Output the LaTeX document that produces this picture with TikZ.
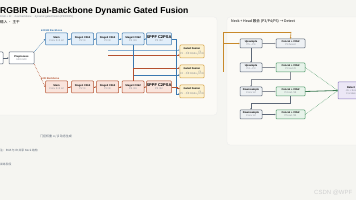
\documentclass[tikz,border=0pt]{standalone}
\usepackage{fontspec}
\setmainfont{Liberation Sans}
\newfontfamily\cjk{Noto Sans CJK SC}
\usetikzlibrary{arrows.meta}
\definecolor{bgc}{HTML}{F5F5F1}
\definecolor{panel}{HTML}{FBFAF6}
\definecolor{rgbb}{HTML}{3A78B0}
\definecolor{rgbf}{HTML}{E2EEF9}
\definecolor{rgbl}{HTML}{86AED2}
\definecolor{irb}{HTML}{B5502F}
\definecolor{irf}{HTML}{F9E4DC}
\definecolor{fub}{HTML}{D4A040}
\definecolor{fuf}{HTML}{FCF1CF}
\definecolor{grb}{HTML}{5D6878}
\definecolor{grf}{HTML}{EEF1F4}
\definecolor{gnb}{HTML}{4E9A6A}
\definecolor{gnf}{HTML}{E7F3EA}
\definecolor{pub}{HTML}{8A78C0}
\definecolor{puf}{HTML}{ECE7F6}
\definecolor{orl}{HTML}{C8892A}
\definecolor{txg}{HTML}{8A8F98}
\tikzset{
  blk/.style={draw, line width=0.5pt, rounded corners=0.8pt, inner sep=0pt, align=center,
    font=\fontsize{2.6}{3.2}\selectfont},
  rgbbox/.style={blk, draw=rgbb, fill=rgbf, minimum width=22pt, minimum height=12pt},
  irbox/.style={blk, draw=irb, fill=irf, minimum width=22pt, minimum height=12pt},
  fubox/.style={blk, draw=fub, fill=fuf, minimum width=24pt, minimum height=13pt},
  grbox/.style={blk, draw=grb, fill=grf, minimum width=22pt, minimum height=9pt},
  gnbox/.style={blk, draw=gnb, fill=gnf, minimum width=29pt, minimum height=9pt},
  ar/.style={-{Stealth[length=1.6pt,width=1.4pt]}, line width=0.5pt},
  lbl/.style={inner sep=0pt, anchor=west},
  pnl/.style={fill=panel, draw=black!7, line width=0.4pt, rounded corners=3pt},
}
\newcommand{\tl}[2]{\textbf{#1}\\[-0.2pt]\textcolor{txg}{#2}}
\begin{document}
\begin{tikzpicture}[x=1pt,y=-1pt]
\useasboundingbox (0,0) rectangle (356,200);
\fill[bgc] (0,0) rectangle (356,200);
% panels
\path[pnl] (-6,17) rectangle (217,115);
\path[pnl] (227,17) rectangle (362,145);
% title
\node[lbl, font=\fontsize{8.6}{9}\selectfont\bfseries] (title) at (0,11.5) {RGBIR Dual-Backbone Dynamic Gated Fusion};
\node[lbl, font=\fontsize{2.6}{3}\selectfont, text=txg] (sub) at (0,16.5) {RGB + IR \quad dual backbone \quad dynamic gated fusion (P3/P4/P5)};
\node[lbl, font=\fontsize{3.6}{4}\selectfont\cjk] (lp) at (0,22.5) {输入 · 主干};
% input + preprocess
\node[blk, draw=grb, fill=white, minimum width=8pt, minimum height=12pt] (in) at (-1,58) {};
\node[blk, draw=grb, fill=white, minimum width=25pt, minimum height=12pt] (pre) at (21.5,58) {\tl{Preprocess}{640×640}};
\draw[ar, grb] (in) -- (pre);
% branch labels
\node[lbl, font=\fontsize{2.6}{3}\selectfont\bfseries, text=rgbb] (lr) at (41,31) {■ RGB Backbone};
\node[lbl, font=\fontsize{2.6}{3}\selectfont\bfseries, text=irb] (li) at (41,79) {■ IR Backbone};
% RGB row
\node[rgbbox] (t1) at (56.5,39) {\tl{Stem}{Conv 3×3 s2}};
\node[rgbbox] (t2) at (82.5,39) {\tl{Stage1 C3k2}{P2 /4}};
\node[rgbbox] (t3) at (107.5,39) {\tl{Stage2 C3k2}{P3 /8}};
\node[rgbbox] (t4) at (133,39) {\tl{Stage3 C3k2}{P4 /16}};
\node[rgbbox] (t5) at (159,39) {{\fontsize{4}{4}\selectfont\textbf{SPPF C2PSA}}\\[-0.2pt]\textcolor{txg}{P5 /32}};
% IR row
\node[irbox] (b1) at (56.5,87) {\tl{Stem}{Conv 3×3 s2}};
\node[irbox] (b2) at (82.5,87) {\tl{Stage1 C3k2}{P2 /4}};
\node[irbox] (b3) at (107.5,87) {\tl{Stage2 C3k2}{P3 /8}};
\node[irbox] (b4) at (133,87) {\tl{Stage3 C3k2}{P4 /16}};
\node[irbox] (b5) at (159,87) {{\fontsize{4}{4}\selectfont\textbf{SPPF C2PSA}}\\[-0.2pt]\textcolor{txg}{P5 /32}};
\foreach \a/\b in {t1/t2,t2/t3,t3/t4,t4/t5}{\draw[ar, rgbb] (\a) -- (\b);}
\foreach \a/\b in {b1/b2,b2/b3,b3/b4,b4/b5}{\draw[ar, irb] (\a) -- (\b);}
\draw[ar, rgbb, densely dotted, line width=0.6pt] (pre.north east) -- (t1.west);
\draw[ar, irb, densely dotted, line width=0.6pt] (pre.south east) -- (b1.west);
% fusion nodes
\node[fubox] (f1) at (192,51.5) {\tl{Gated Fusion}{P3 · $\alpha$RGB+$\beta$IR}};
\node[fubox] (f2) at (192,71.5) {\tl{Gated Fusion}{P4 · $\alpha$RGB+$\beta$IR}};
\node[fubox] (f3) at (192,91.5) {\tl{Gated Fusion}{P5 · $\alpha$RGB+$\beta$IR}};
\coordinate (s1) at (108,50);
\coordinate (s2) at (108,55);
\draw[ar, rgbl, line width=0.6pt] (s1) -- (f1.west |- s1);
\draw[ar, irb, line width=0.6pt] (s2) -- (f1.west |- s2);
\draw[ar, rgbb, line width=0.6pt] (t4.south) |- ([yshift=-3.5pt]f2.west);
\draw[ar, irb, line width=0.6pt] (b4.north) |- ([yshift=3.5pt]f2.west);
\draw[ar, rgbb, line width=0.6pt] (t5.east) -- ++(5,0) |- ([yshift=-2.5pt]f3.west);
\draw[ar, irb, line width=0.6pt] (b5.east) -- ++(6,0) |- ([yshift=3pt]f3.west);
% below text
\node[lbl, font=\fontsize{3}{3}\selectfont\cjk, text=grb] (n1) at (40,136.5) {门控权重 α / β 动态生成};
\node[lbl, font=\fontsize{2.8}{3}\selectfont\cjk, text=grb] (n2) at (0,150) {注：RGB 与 IR 共享 Neck 结构};
\node[lbl, font=\fontsize{2.8}{3}\selectfont\cjk, text=grb] (n3) at (0,164.5) {训练阶段};
% right panel
\node[lbl, font=\fontsize{3.6}{4}\selectfont\cjk] (rp) at (231,21.5) {Neck + Head 融合 (P3/P4/P5) → Detect};
\node[grbox] (A) at (251,43.5) {\tl{Upsample}{P5→P4}};
\node[blk, draw=grb, fill=grf, minimum width=29pt, minimum height=9pt] (B) at (290.5,43.5) {\tl{Concat + C3k2}{P4 fused}};
\node[grbox] (C) at (251,67.5) {\tl{Upsample}{P4→P3}};
\node[gnbox] (D) at (290.5,67.5) {\tl{Concat + C3k2}{P3 out /8}};
\node[grbox] (E) at (251,91.5) {\tl{Downsample}{Conv s2}};
\node[gnbox] (F) at (290.5,91.5) {\tl{Concat + C3k2}{P4 out /16}};
\node[grbox] (G) at (251,114.5) {\tl{Downsample}{Conv s2}};
\node[gnbox] (H) at (290.5,114.5) {\tl{Concat + C3k2}{P5 out /32}};
\node[blk, draw=pub, fill=puf, minimum width=26pt, minimum height=17pt] (I) at (351,90.5) {\textbf{Detect}\\[-0.2pt]\textcolor{txg}{cls + box}\\[-0.2pt]\textcolor{txg}{3 scales}};
\coordinate (o1) at (223,72);
\draw[orl, line width=0.6pt] (o1) |- (291,32);
\draw[ar, orl, line width=0.6pt] (291,32) -- (B.north);
\draw[ar, orl, line width=0.6pt] (223,43.5) -- (A.west);
\draw[ar, txg, line width=0.6pt] (A) -- (B);
\draw[ar, grb, line width=0.6pt] (A) -- (C);
\draw[ar, txg, line width=0.6pt] (C) -- (D);
\draw[ar, txg, line width=0.6pt] (D.south) -- ++(0,7) -| (E.north);
\draw[ar, txg, line width=0.6pt] (E) -- (F);
\draw[ar, grb, line width=0.6pt] (F.south) -- ++(0,7) -| (G.north);
\draw[ar, grb, line width=0.6pt] (G) -- (H);
\draw[ar, gnb, densely dotted, line width=0.6pt] (D.east) -- (I.west);
\draw[ar, gnb!80!black, line width=0.8pt] (F.east) -- (I.west);
\draw[ar, gnb, densely dotted, line width=0.6pt] (H.east) -- (I.west);
% watermark
\node[lbl, font=\fontsize{6}{7}\selectfont, text=black!18] (wm) at (314,193) {CSDN @WPF};
\end{tikzpicture}
\end{document}
